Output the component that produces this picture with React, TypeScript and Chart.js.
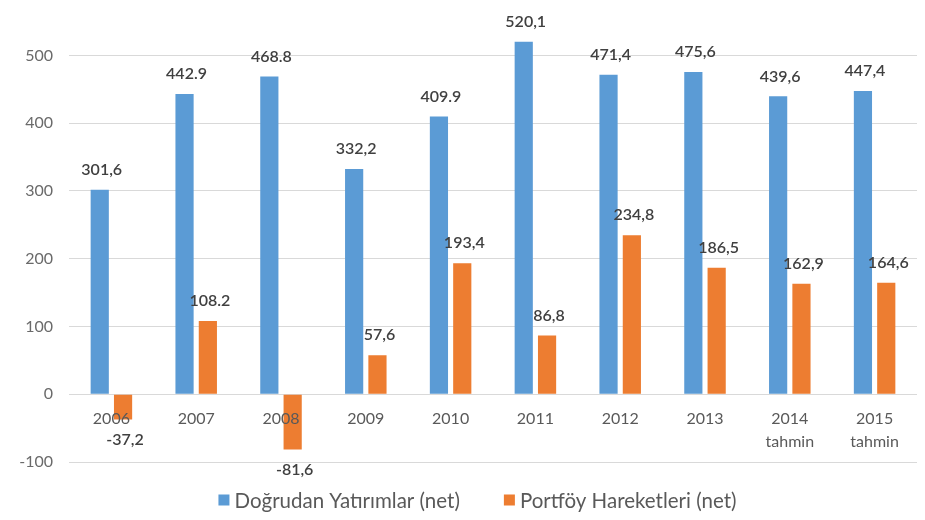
import React, { useEffect, useRef } from "react";
import { Chart, registerables } from "chart.js";

Chart.register(...registerables);

const categories = ["2006", "2007", "2008", "2009", "2010", "2011", "2012", "2013", "2014\ntahmin", "2015\ntahmin"];
const seriesNames = ["Doğrudan Yatırımlar (net)", "Portföy Hareketleri (net)"];
const seriesColors = ["#5B9BD5", "#ED7D31"];
const directValues = [301.6, 442.9, 468.8, 332.2, 409.9, 520.1, 471.4, 475.6, 439.6, 447.4];
const portfolioValues = [-37.2, 108.2, -81.6, 57.6, 193.4, 86.8, 234.8, 186.5, 162.9, 164.6];
const directLabels = ["301,6", "442.9", "468.8", "332,2", "409.9", "520,1", "471,4", "475,6", "439,6", "447,4"];
const portfolioLabels = ["-37,2", "108.2", "-81,6", "57,6", "193,4", "86,8", "234,8", "186,5", "162,9", "164,6"];
const yTicks = [-100, 0, 100, 200, 300, 400, 500];

const FONT = "Lato, 'Open Sans', sans-serif";

const labelPlugin = {
  id: "customLabels",
  afterDatasetsDraw(chart: any) {
    const ctx = chart.ctx;
    const labelSets = [directLabels, portfolioLabels];
    ctx.save();
    ctx.font = `600 16px ${FONT}`;
    ctx.fillStyle = "#404040";
    ctx.textAlign = "center";
    ctx.textBaseline = "middle";
    chart.data.datasets.forEach((ds: any, di: number) => {
      const meta = chart.getDatasetMeta(di);
      meta.data.forEach((el: any, i: number) => {
        const v = ds.data[i];
        const y = v >= 0 ? el.y - 20 : el.y + 20;
        ctx.fillText(labelSets[di][i], el.x + 2, y);
      });
    });
    // category labels next to the zero line
    const xs = chart.scales.x;
    const ys = chart.scales.y;
    const y0 = ys.getPixelForValue(0);
    ctx.font = `16px ${FONT}`;
    ctx.fillStyle = "#595959";
    categories.forEach((c, i) => {
      const x = xs.getPixelForValue(i);
      c.split("\n").forEach((line, li) => {
        ctx.fillText(line, x, y0 + 25 + li * 23);
      });
    });
    // legend
    ctx.font = `20.5px ${FONT}`;
    ctx.textAlign = "left";
    const box = 11;
    const gapBoxText = 5;
    const gapItems = 44;
    const widths = seriesNames.map((n) => ctx.measureText(n).width);
    const total = widths.reduce((a, w) => a + box + gapBoxText + w, 0) + gapItems * (seriesNames.length - 1);
    let x = chart.width / 2 + 15 - total / 2;
    const ly = chart.height - 20;
    seriesNames.forEach((n, i) => {
      ctx.fillStyle = seriesColors[i];
      ctx.fillRect(x, ly - box / 2, box, box);
      x += box + gapBoxText;
      ctx.fillStyle = "#595959";
      ctx.fillText(n, x, ly + 1);
      x += widths[i] + gapItems;
    });
    ctx.restore();
  },
};

export default function App() {
  const ref = useRef<HTMLCanvasElement | null>(null);
  useEffect(() => {
    if (!ref.current) return;
    const chart = new Chart(ref.current, {
      type: "bar",
      data: {
        labels: categories,
        datasets: [
          {
            label: seriesNames[0],
            data: directValues,
            backgroundColor: seriesColors[0],
            categoryPercentage: 0.55,
            barPercentage: 0.78,
          },
          {
            label: seriesNames[1],
            data: portfolioValues,
            backgroundColor: seriesColors[1],
            categoryPercentage: 0.55,
            barPercentage: 0.78,
          },
        ],
      },
      options: {
        animation: false,
        responsive: false,
        maintainAspectRatio: false,
        layout: { padding: { left: 0, right: 8, top: 20, bottom: 58 } },
        plugins: {
          legend: { display: false },
          tooltip: { enabled: false },
        },
        scales: {
          x: { display: false },
          y: {
            min: -100,
            max: 544,
            afterBuildTicks(scale: any) {
              scale.ticks = yTicks.map((v) => ({ value: v }));
            },
            afterFit(scale: any) {
              scale.width = 69;
            },
            grid: { color: "#D9D9D9", drawTicks: false },
            border: { display: false },
            ticks: {
              color: "#6A6A6A",
              font: { family: FONT, size: 16 },
              padding: 16,
            },
          },
        },
      },
      plugins: [labelPlugin],
    });
    return () => chart.destroy();
  }, []);
  return (
    <div style={{ position: "fixed", left: 0, top: 0, width: 925, height: 520, background: "#fff" }}>
      <canvas ref={ref} width={925} height={520} style={{ width: 925, height: 520 }} />
    </div>
  );
}
